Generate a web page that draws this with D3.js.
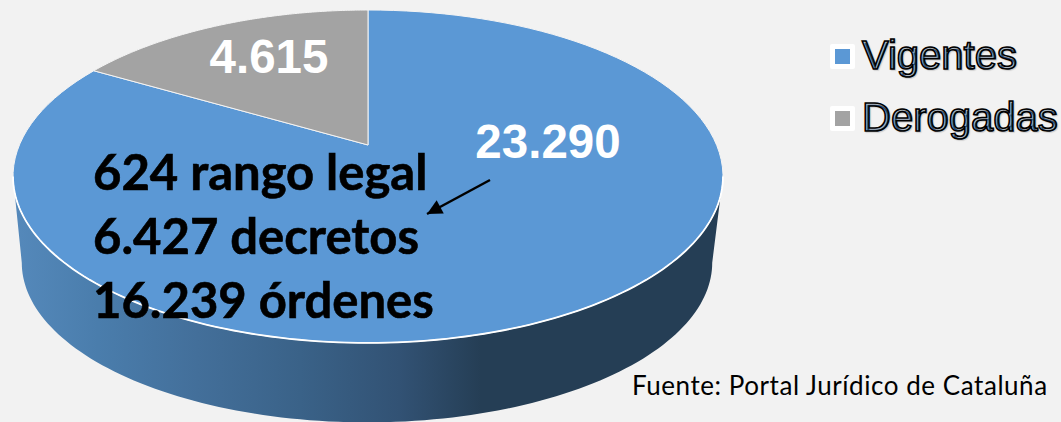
<!DOCTYPE html>
<html>
<head>
<meta charset="utf-8">
<script src="https://cdn.jsdelivr.net/npm/d3@7"></script>
<style>
    html, body { margin: 0; padding: 0; background: #f2f2f2; overflow: hidden; }
    svg { display: block; }
</style>
</head>
<body>
<div id="chart"></div>
<script>
var categories = ["Vigentes", "Derogadas"];
var values = [23290, 4615];
var valueLabels = ["23.290", "4.615"];
var detailLines = ["624 rango legal", "6.427 decretos", "16.239 órdenes"];
var source = "Fuente: Portal Jurídico de Cataluña";

var width = 1061, height = 422;

var color = d3.scaleOrdinal()
    .domain(categories)
    .range(["#5b98d5", "#a3a3a3"]);

var canvas = d3.select("#chart").append("svg")
    .attr("width", width)
    .attr("height", height);

// pie seen in perspective: k squeezes the far side of the disc
var k = 0.189;
function project(disc, angle, r) {
    var u = Math.sin(angle) * r, v = Math.cos(angle) * r;
    var w = 1 + k * v;
    return [disc.cx + disc.rx * u / w, disc.cy - disc.ry * v / w];
}
var topDisc = { cx: 368, cy: 145, rx: 348.6, ry: 160.5 };
var lowDisc = { cx: 367, cy: 232.5, rx: 339, ry: 154 };

var line = d3.line();

function slicePath(d) {
    var pts = [project(topDisc, 0, 0)];
    var n = 120;
    for (var i = 0; i <= n; i++) {
        pts.push(project(topDisc, d.startAngle + (d.endAngle - d.startAngle) * i / n, 1));
    }
    return line(pts) + "Z";
}

// angle of the widest point of the disc, both sides
var sideAngle = Math.PI / 2 + Math.asin(k);
var frontAngles = d3.range(-60, 61).map(function (i) { return Math.PI + (Math.PI - sideAngle) * i / 60; });

var defs = canvas.append("defs");
var wallGrad = defs.append("linearGradient")
    .attr("id", "wall")
    .attr("gradientUnits", "userSpaceOnUse")
    .attr("x1", 13).attr("x2", 722).attr("y1", 0).attr("y2", 0);
[[0, "#5589bb"], [0.12, "#4a7dac"], [0.26, "#436f9a"], [0.405, "#3a6288"], [0.545, "#325274"], [0.66, "#253e55"], [1, "#253e55"]]
    .forEach(function (s) {
        wallGrad.append("stop").attr("offset", s[0]).attr("stop-color", s[1]);
    });

// side wall
var wallPts = frontAngles.map(function (a) { return project(lowDisc, a, 1); }).reverse()
    .concat(frontAngles.map(function (a) { return project(topDisc, a, 1); }));
canvas.append("path")
    .attr("d", line(wallPts) + "Z")
    .attr("fill", "url(#wall)");

// top face
var pie = d3.pie().sort(null);
var slices = pie(values);

canvas.append("g")
    .selectAll("path")
    .data(slices)
    .enter()
    .append("path")
    .attr("d", slicePath)
    .attr("fill", function (d, i) { return color(categories[i]); })
    .attr("stroke", "#f4f4f4")
    .attr("stroke-width", 1)
    .attr("stroke-linejoin", "round");

// brighter rim along the front edge
canvas.append("path")
    .attr("d", line(frontAngles.map(function (a) { return project(topDisc, a, 1); })))
    .attr("fill", "none")
    .attr("stroke", "#fff")
    .attr("stroke-width", 1.8);

// value labels
var labelX = [548, 269], labelY = [158, 73];
canvas.append("g")
    .selectAll("text")
    .data(valueLabels)
    .enter()
    .append("text")
    .attr("x", function (d, i) { return labelX[i]; })
    .attr("y", function (d, i) { return labelY[i]; })
    .attr("text-anchor", "middle")
    .attr("font-family", "Liberation Sans")
    .attr("font-weight", "bold")
    .attr("font-size", 47.5)
    .attr("fill", "#fff")
    .text(function (d) { return d; });

// breakdown text
canvas.append("g")
    .selectAll("text")
    .data(detailLines)
    .enter()
    .append("text")
    .attr("x", 93)
    .attr("y", function (d, i) { return 190 + i * 64; })
    .attr("font-family", "Lato")
    .attr("font-weight", "bold")
    .attr("font-size", 49)
    .attr("fill", "#000")
    .attr("stroke", "#000")
    .attr("stroke-width", 0.6)
    .text(function (d) { return d; });

// arrow
var marker = defs.append("marker")
    .attr("id", "arrowhead")
    .attr("viewBox", "0 0 10 10")
    .attr("refX", 10).attr("refY", 5)
    .attr("markerWidth", 7).attr("markerHeight", 6)
    .attr("orient", "auto");
marker.append("path").attr("d", "M0,0L10,5L0,10Z").attr("fill", "#000");

canvas.append("line")
    .attr("x1", 490).attr("y1", 180)
    .attr("x2", 427).attr("y2", 214)
    .attr("stroke", "#000")
    .attr("stroke-width", 2.5)
    .attr("marker-end", "url(#arrowhead)");

// legend
var legendY = d3.scalePoint().domain(categories).range([56.5, 118.5]);

var legend = canvas.selectAll(".legend")
    .data(categories)
    .enter().append("g")
    .attr("class", "legend")
    .attr("transform", function (d) { return "translate(830," + legendY(d) + ")"; });

legend.append("rect")
    .attr("x", 0).attr("y", -12.5)
    .attr("width", 25).attr("height", 25)
    .attr("rx", 2)
    .attr("fill", "#fff");

legend.append("rect")
    .attr("x", 5).attr("y", -7.5)
    .attr("width", 15).attr("height", 15)
    .attr("fill", color);

legend.append("text")
    .attr("x", 32)
    .attr("y", 12)
    .attr("font-family", "Liberation Sans")
    .attr("font-size", 40)
    .attr("fill", "#0b3a6e")
    .attr("stroke", "#000")
    .attr("stroke-width", 1.6)
    .style("text-shadow", "1px 1px 1px #ccc")
    .text(function (d) { return d; });

canvas.append("text")
    .attr("x", 632)
    .attr("y", 395)
    .attr("font-family", "Lato")
    .attr("font-size", 26)
    .attr("letter-spacing", 0.55)
    .attr("fill", "#000")
    .text(source);
</script>
</body>
</html>
